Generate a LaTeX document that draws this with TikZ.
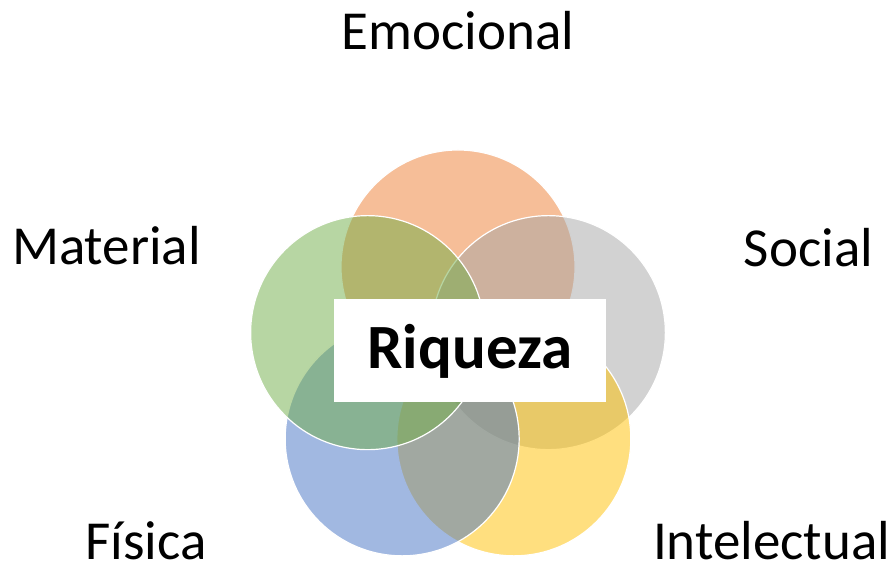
\documentclass[tikz,border=0pt]{standalone}
\usepackage{fontspec}
\setmainfont{Carlito}
\usepackage{xcolor}
\usepackage{tikz}
\usetikzlibrary{positioning, calc}
\definecolor{emocional}{HTML}{ED7D31}
\definecolor{social}{HTML}{A5A5A5}
\definecolor{intelectual}{HTML}{FFC000}
\definecolor{fisica}{HTML}{4472C4}
\definecolor{material}{HTML}{70AD47}

\begin{document}
\begin{tikzpicture}[x=1pt, y=1pt,
  petal/.style={circle, minimum size=234pt, inner sep=0pt, draw=white, line width=1.2pt, fill opacity=0.5},
  rotulo/.style={anchor=base, inner sep=0pt, font=\fontsize{55}{66}\selectfont}]
  \useasboundingbox (0,0) rectangle (896,567);
  \coordinate (centro) at (458,205);
  % five overlapping circles
  \foreach \nome/\ang in {emocional/90, social/18, intelectual/-54, fisica/-126, material/162}
    \node[petal, fill=\nome] (\nome) at ($(centro)+(\ang:95)$) {};
  \node[fill=white, minimum width=272pt, minimum height=103pt, inner sep=0pt,
    text height=40pt, text depth=3pt, font=\fontsize{63}{76}\selectfont\bfseries] (riqueza) at (470,216.5) {Riqueza};
  % labels
  \node[rotulo] (lemocional) at (458,517) {Emocional};
  \node[rotulo] (lmaterial) at (106.5,302) {Material};
  \node[rotulo] (lsocial) at (808.5,300) {Social};
  \node[rotulo] (lfisica) at (146,7) {Física};
  \node[rotulo] (lintelectual) at (771.5,7) {Intelectual};
\end{tikzpicture}
\end{document}
